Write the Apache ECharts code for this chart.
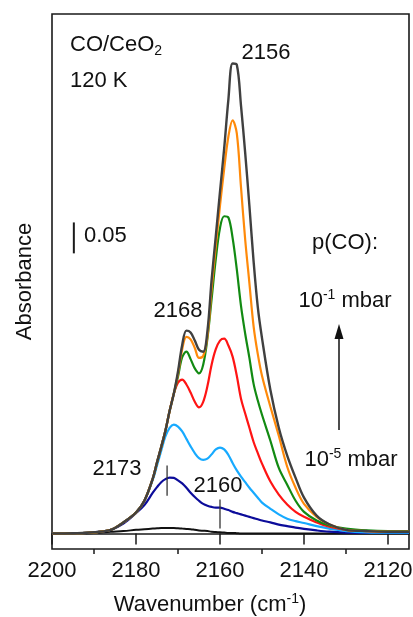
<!DOCTYPE html>
<html>
<head>
<meta charset="utf-8">
<script src="https://cdn.jsdelivr.net/npm/echarts@6/dist/echarts.min.js"></script>
<style>
  html, body { margin: 0; padding: 0; background: #fff; }
  #chart { width: 413px; height: 617px; }
</style>
</head>
<body>
<div id="chart"></div>
<script>
// IR spectra of CO adsorbed on CeO2 at 120 K, increasing CO pressure
const wavenumbers = [2200, 2195, 2190, 2186, 2183, 2180, 2178, 2176, 2175, 2174,
  2173, 2172, 2171, 2170, 2169, 2168, 2167, 2166, 2165, 2164,
  2163, 2162, 2161, 2160, 2159, 2158, 2157, 2156, 2155, 2154,
  2153, 2152, 2151, 2150, 2148, 2146, 2144, 2142, 2140, 2137,
  2134, 2130, 2125, 2120, 2115];

const absBlack = [0, 0, 0.001, 0.003, 0.004, 0.006, 0.007, 0.008, 0.0085, 0.009,
  0.009, 0.009, 0.009, 0.0085, 0.008, 0.0075, 0.007, 0.006, 0.005, 0.0045,
  0.004, 0.003, 0.0025, 0.002, 0.0015, 0.001, 0.001, 0.0005, 0, 0,
  0, 0, 0, 0, 0, 0, 0, 0, 0, 0,
  0, 0, 0, 0, 0];

const absNavy = [0, 0.0005, 0.002, 0.006, 0.016, 0.033, 0.046, 0.066, 0.075, 0.083,
  0.088, 0.0905, 0.090, 0.086, 0.081, 0.074, 0.066, 0.059, 0.053, 0.048,
  0.045, 0.043, 0.042, 0.042, 0.040, 0.038, 0.035, 0.033, 0.031, 0.029,
  0.027, 0.025, 0.023, 0.021, 0.018, 0.0145, 0.012, 0.0095, 0.0075, 0.005,
  0.003, 0.0015, 0.001, 0.001, 0.001];

const absSky = [0, 0.0005, 0.002, 0.006, 0.018, 0.034, 0.053, 0.087, 0.110, 0.134,
  0.157, 0.171, 0.176, 0.173, 0.165, 0.153, 0.141, 0.130, 0.122, 0.119,
  0.121, 0.128, 0.136, 0.139, 0.136, 0.127, 0.114, 0.102, 0.092, 0.083,
  0.074, 0.066, 0.058, 0.050, 0.040, 0.031, 0.024, 0.020, 0.017, 0.012,
  0.008, 0.004, 0.002, 0.0015, 0.0015];

const absRed = [0, 0.0005, 0.002, 0.006, 0.018, 0.034, 0.053, 0.089, 0.115, 0.140,
  0.166, 0.198, 0.226, 0.244, 0.249, 0.241, 0.228, 0.213, 0.204, 0.213,
  0.238, 0.273, 0.298, 0.312, 0.315, 0.304, 0.286, 0.255, 0.218, 0.194,
  0.171, 0.148, 0.130, 0.113, 0.084, 0.063, 0.047, 0.035, 0.027, 0.018,
  0.011, 0.006, 0.004, 0.003, 0.003];

const absGreen = [0, 0.0005, 0.002, 0.006, 0.018, 0.034, 0.053, 0.089, 0.115, 0.140,
  0.166, 0.198, 0.226, 0.254, 0.285, 0.294, 0.282, 0.267, 0.259, 0.273,
  0.315, 0.379, 0.444, 0.494, 0.513, 0.511, 0.478, 0.427, 0.368, 0.323,
  0.284, 0.242, 0.215, 0.192, 0.150, 0.106, 0.079, 0.053, 0.035, 0.021,
  0.013, 0.008, 0.005, 0.004, 0.004];

const absOrange = [0, 0.0005, 0.002, 0.006, 0.018, 0.034, 0.053, 0.089, 0.115, 0.140,
  0.166, 0.198, 0.226, 0.258, 0.298, 0.318, 0.314, 0.300, 0.284, 0.287,
  0.318, 0.395, 0.465, 0.530, 0.590, 0.642, 0.668, 0.647, 0.560, 0.475,
  0.405, 0.335, 0.290, 0.255, 0.205, 0.158, 0.108, 0.074, 0.048, 0.027,
  0.015, 0.006, 0.004, 0.003, 0.003];

const absGray = [0, 0.0005, 0.002, 0.006, 0.018, 0.034, 0.053, 0.089, 0.115, 0.140,
  0.166, 0.198, 0.226, 0.262, 0.305, 0.328, 0.325, 0.312, 0.297, 0.294,
  0.327, 0.410, 0.481, 0.553, 0.623, 0.702, 0.760, 0.758, 0.692, 0.615,
  0.530, 0.440, 0.366, 0.316, 0.232, 0.171, 0.126, 0.090, 0.058, 0.029,
  0.015, 0.006, 0.004, 0.003, 0.003];

const majorTicks = [2200, 2180, 2160, 2140, 2120];
const minorTicks = [2190, 2170, 2150, 2130];

// 0.05 absorbance scale bar and the two band markers
const scaleBar = [[2194.8, 0.453], [2194.8, 0.503]];
const marker2173 = [[2172.6, 0.061], [2172.6, 0.110]];
const marker2160 = [[2160.0, 0.008], [2160.0, 0.055]];

const FONT = 'Liberation Sans, Arial, sans-serif';

function pairs(ys) {
  return wavenumbers.map((w, i) => [w, ys[i]]);
}

function spectrum(name, ys, color, width) {
  return {
    name: name,
    type: 'line',
    data: pairs(ys),
    smooth: 0.35,
    showSymbol: false,
    silent: true,
    lineStyle: { color: color, width: width }
  };
}

function segment(pts, color, width) {
  return {
    type: 'line',
    data: pts,
    showSymbol: false,
    silent: true,
    lineStyle: { color: color, width: width }
  };
}

function label(x, y, text, align) {
  return {
    type: 'text', silent: true,
    style: {
      x: x, y: y, text: text, fill: '#111', fontSize: 22, fontFamily: FONT,
      lineHeight: 26, verticalAlign: 'middle', align: align || 'center',
      rich: {
        sup: { fontSize: 14, fontFamily: FONT, fill: '#111', lineHeight: 14, verticalAlign: 'top' },
        sub: { fontSize: 14, fontFamily: FONT, fill: '#111', lineHeight: 14, verticalAlign: 'bottom' }
      }
    }
  };
}

const chart = echarts.init(document.getElementById('chart'), null, { renderer: 'canvas' });

chart.setOption({
  animation: false,
  backgroundColor: '#fff',
  grid: {
    left: 52, right: 4, top: 14, bottom: 68,
    containLabel: false,
    outerBoundsMode: 'none',
    show: true, borderColor: '#1a1a1a', borderWidth: 1.6,
    backgroundColor: 'transparent'
  },
  xAxis: [{
    type: 'value',
    inverse: true,
    min: 2115, max: 2200,
    position: 'bottom',
    axisLine: { show: true, lineStyle: { color: '#1a1a1a', width: 1.6 } },
    axisTick: { show: true, customValues: majorTicks, length: 11, lineStyle: { color: '#1a1a1a', width: 1.5 } },
    axisLabel: {
      customValues: majorTicks, color: '#111', fontSize: 22, fontFamily: FONT, margin: 11,
      formatter: (v) => String(v)
    },
    splitLine: { show: false }
  }, {
    type: 'value',
    inverse: true,
    min: 2115, max: 2200,
    position: 'bottom',
    axisLine: { show: false },
    axisTick: { show: true, customValues: minorTicks, length: 5, lineStyle: { color: '#1a1a1a', width: 1.5 } },
    axisLabel: { show: false },
    splitLine: { show: false }
  }],
  yAxis: {
    type: 'value',
    min: -0.025, max: 0.84,
    axisLine: { show: false },
    axisTick: { show: false },
    axisLabel: { show: false },
    splitLine: { show: false },
    name: 'Absorbance',
    nameLocation: 'middle',
    nameRotate: 90,
    nameGap: 16,
    nameTextStyle: { fontSize: 22, fontFamily: FONT, color: '#111' }
  },
  series: [
    spectrum('1e-6', absBlack, '#111111', 2),
    spectrum('1e-5', absNavy, '#0c0c9a', 2.2),
    spectrum('1e-4', absSky, '#17aaff', 2.2),
    spectrum('1e-3', absRed, '#ff1414', 2.2),
    spectrum('1e-2', absGreen, '#128a12', 2.2),
    spectrum('5e-2', absOrange, '#ff8a0a', 2.2),
    spectrum('1e-1', absGray, '#404040', 2.4),
    segment(scaleBar, '#1a1a1a', 2),
    segment(marker2173, '#333333', 1.3),
    segment(marker2160, '#333333', 1.3)
  ],
  graphic: [
    label(210, 605, 'Wavenumber (cm{sup|-1})'),
    label(70, 45, 'CO/CeO{sub|2}', 'left'),
    label(70, 81, '120 K', 'left'),
    label(266, 53, '2156'),
    label(178, 311, '2168'),
    label(117, 469, '2173'),
    label(218, 486, '2160'),
    label(84, 236, '0.05', 'left'),
    label(345, 243, 'p(CO):'),
    label(345, 301, '10{sup|-1} mbar'),
    label(351, 460, '10{sup|-5} mbar'),
    // pressure arrow
    { type: 'line', silent: true, shape: { x1: 339, y1: 430, x2: 339, y2: 336 }, style: { stroke: '#111', lineWidth: 1.5 } },
    { type: 'polygon', silent: true, shape: { points: [[339, 324], [334.5, 339], [343.5, 339]] }, style: { fill: '#111' } }
  ]
});
</script>
</body>
</html>
